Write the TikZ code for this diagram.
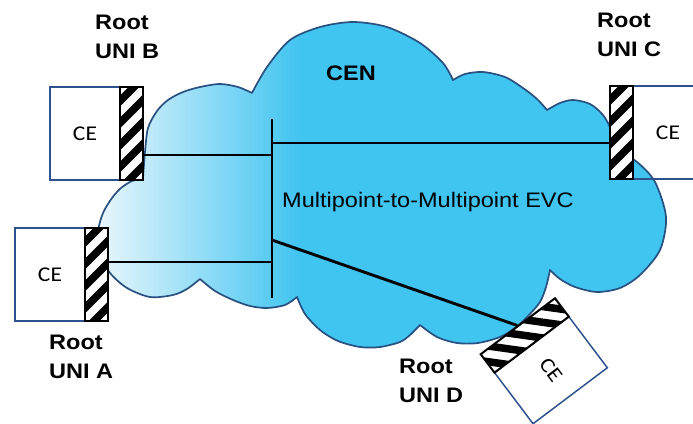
\documentclass[tikz,border=0pt]{standalone}
\usepackage{fontspec}
\setmainfont{Liberation Sans}
\newfontfamily\cefont{Carlito}
\usepackage{graphicx}
\newcommand\wide[1]{\scalebox{1.12}[1]{#1}}
\definecolor{cloudcyan}{RGB}{64,196,240}
\definecolor{cloudpale}{RGB}{236,247,253}
\definecolor{cloudline}{RGB}{40,80,128}
\definecolor{boxblue}{RGB}{47,82,143}
\tikzset{
  cebox/.style={draw=boxblue, line width=1.5pt, minimum height=93pt, inner sep=0pt,
    font=\cefont\fontsize{21}{25}\selectfont},
  hatchbox/.style={draw=black, line width=2pt, minimum width=23pt, minimum height=93pt, inner sep=0pt},
  stripe/.style={line width=7.5pt, black},
  evcline/.style={line width=2.9pt, black},
  rootlabel/.style={font=\bfseries\fontsize{21}{29}\selectfont, align=left, anchor=north west, inner sep=0pt},
  plainlabel/.style={font=\fontsize{21}{25}\selectfont, anchor=base west, inner sep=0pt},
}
\begin{document}
\begin{tikzpicture}[x=1pt,y=-1pt]
\useasboundingbox (0,0) rectangle (693,423);
\def\cloudpath{plot[smooth] coordinates {(143,178) (145,152) (148,128) (157,111) (168,100) (183,92) (200,87) (220,84) (238,87) (252,93)}
 -- plot[smooth] coordinates {(252,93) (267,67) (290,40) (320,27) (353,22) (387,27) (420,43) (443,63) (453,80)}
 -- plot[smooth] coordinates {(453,80) (465,74) (483,72) (505,77) (523,88) (537,99) (547,110)}
 -- plot[smooth] coordinates {(547,110) (560,103) (573,100) (590,104) (603,115) (611,130) (613,147)}
 -- plot[smooth] coordinates {(613,147) (637,162) (655,182) (666,217) (660,250) (640,275) (620,288) (597,292) (575,287) (560,279) (550,270)}
 -- plot[smooth] coordinates {(550,270) (546,287) (540,302) (528,316) (515,328) (500,337) (478,343) (457,343) (437,337) (420,325)}
 -- plot[smooth] coordinates {(420,325) (410,335) (400,342) (380,347) (360,347) (338,341) (320,330) (305,314) (297,297)}
 -- plot[smooth] coordinates {(297,297) (285,305) (267,308) (250,306) (233,300) (215,291) (200,279)}
 -- plot[smooth] coordinates {(200,279) (187,289) (173,295) (150,297) (127,288) (110,273) (100,255) (98,232) (103,213) (112,198) (121,188) (132,181) (143,178)}
 -- cycle}
% cloud
\begin{scope}
  \clip \cloudpath;
  \fill[cloudcyan] (0,0) rectangle (693,423);
  \shade[left color=cloudpale, right color=cloudcyan] (95,0) rectangle (300,423);
\end{scope}
\draw[cloudline, line width=1.7pt, line join=round] \cloudpath;

% unit B
\begin{scope}[shift={(96.5,133.5)}]
  \node[cebox, minimum width=70pt] (ceB) at (-11.5,0) {\wide{CE}};
  \fill[white] (23.5,-46.5) rectangle (46.5,46.5);
  \begin{scope}
    \clip (23.5,-46.5) rectangle (46.5,46.5);
    \foreach \k in {-6,...,6} \draw[stripe] ({5},{\k*22+30}) -- ({65},{\k*22-30});
  \end{scope}
  \node[hatchbox] (hatB) at (35,0) {};
\end{scope}
% unit A
\begin{scope}[shift={(61.5,274.5)}]
  \node[cebox, minimum width=70pt] (ceA) at (-11.5,0) {\wide{CE}};
  \fill[white] (23.5,-46.5) rectangle (46.5,46.5);
  \begin{scope}
    \clip (23.5,-46.5) rectangle (46.5,46.5);
    \foreach \k in {-6,...,6} \draw[stripe] ({5},{\k*22+30}) -- ({65},{\k*22-30});
  \end{scope}
  \node[hatchbox] (hatA) at (35,0) {};
\end{scope}
% unit C
\begin{scope}[shift={(656.5,132.5)}]
  \node[cebox, minimum width=70pt] (ceC) at (11.5,0) {\wide{CE}};
  \fill[white] (-46.5,-46.5) rectangle (-23.5,46.5);
  \begin{scope}
    \clip (-46.5,-46.5) rectangle (-23.5,46.5);
    \foreach \k in {-6,...,6} \draw[stripe] ({-65},{\k*22+30}) -- ({-5},{\k*22-30});
  \end{scope}
  \node[hatchbox] (hatC) at (-35,0) {};
\end{scope}
% unit D
\begin{scope}[shift={(544,361)}, rotate=-53, transform shape]
  \node[cebox, minimum width=64pt] (ceD) at (11.5,0) {\wide{CE}};
  \fill[white] (-43.5,-46.5) rectangle (-20.5,46.5);
  \begin{scope}
    \clip (-43.5,-46.5) rectangle (-20.5,46.5);
    \foreach \k in {-6,...,6} \draw[stripe] ({-62},{\k*22+30}) -- ({-2},{\k*22-30});
  \end{scope}
  \node[hatchbox] (hatD) at (-32,0) {};
\end{scope}

% EVC
\coordinate (barT) at (272,119);
\coordinate (barB) at (272,298);
\coordinate (jB) at (272,155);
\coordinate (jC) at (272,143);
\coordinate (jA) at (272,262);
\coordinate (jD) at (272,240);
\draw[evcline] (barT) -- (barB);
\draw[evcline] (hatB.east |- jB) -- (jB);
\draw[evcline] (jC) -- (hatC.west |- jC);
\draw[evcline] (hatA.east |- jA) -- (jA);
\draw[evcline] (jD) -- (hatD.west);

% labels
\node[rootlabel] (lblB) at (95,15) {\wide{Root}\\\wide{UNI B}};
\node[rootlabel] (lblC) at (597,13) {\wide{Root}\\\wide{UNI C}};
\node[rootlabel] (lblA) at (49,335) {\wide{Root}\\\wide{UNI A}};
\node[rootlabel] (lblD) at (399,359) {\wide{Root}\\\wide{UNI D}};
\node[plainlabel, font=\bfseries\fontsize{21}{25}\selectfont] (cen) at (326,80) {\wide{CEN}};
\node[plainlabel] (evc) at (282,207) {\wide{Multipoint-to-Multipoint EVC}};
\end{tikzpicture}
\end{document}
